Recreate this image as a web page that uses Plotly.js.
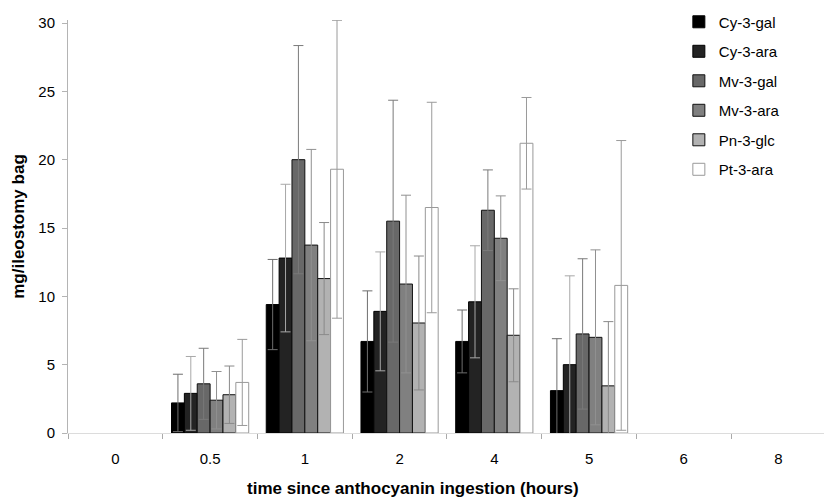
<!DOCTYPE html>
<html>
<head>
<meta charset="utf-8">
<script src="https://cdn.plot.ly/plotly-3.0.1.min.js"></script>
<style>html,body{margin:0;padding:0;background:#fff;}#chart{width:824px;height:499px;}</style>
</head>
<body>
<div id="chart"></div>
<script>
const categories = ["0", "0.5", "1", "2", "4", "5", "6", "8"];
const seriesNames = ["Cy-3-gal", "Cy-3-ara", "Mv-3-gal", "Mv-3-ara", "Pn-3-glc", "Pt-3-ara"];

const cy3gal = [0, 2.2, 9.4, 6.7, 6.7, 3.1, 0, 0];
const cy3galErr = [0, 2.1, 3.3, 3.7, 2.3, 3.8, 0, 0];
const cy3ara = [0, 2.9, 12.8, 8.9, 9.6, 5.0, 0, 0];
const cy3araErr = [0, 2.7, 5.4, 4.35, 4.1, 6.5, 0, 0];
const mv3gal = [0, 3.6, 20.0, 15.5, 16.3, 7.25, 0, 0];
const mv3galErr = [0, 2.6, 8.35, 8.85, 2.95, 5.5, 0, 0];
const mv3ara = [0, 2.4, 13.75, 10.9, 14.25, 7.0, 0, 0];
const mv3araErr = [0, 2.1, 7.0, 6.5, 3.1, 6.4, 0, 0];
const pn3glc = [0, 2.8, 11.3, 8.05, 7.15, 3.45, 0, 0];
const pn3glcErr = [0, 2.1, 4.1, 4.9, 3.4, 4.7, 0, 0];
const pt3ara = [0, 3.7, 19.3, 16.5, 21.2, 10.8, 0, 0];
const pt3araErr = [0, 3.15, 10.9, 7.7, 3.35, 10.6, 0, 0];

const xTitle = "time since anthocyanin ingestion (hours)";
const yTitle = "mg/ileostomy bag";

const values = [cy3gal, cy3ara, mv3gal, mv3ara, pn3glc, pt3ara];
const errors = [cy3galErr, cy3araErr, mv3galErr, mv3araErr, pn3glcErr, pt3araErr];
const fills = ["#000000", "#232323", "#686868", "#808080", "#b2b2b2", "#ffffff"];
const outlines = ["#000000", "#000000", "#111111", "#111111", "#111111", "#999999"];
const errColors = ["#6e6e6e", "#a8a8a8", "#7a7a7a", "#909090", "#8a8a8a", "#9a9a9a"];

const traces = seriesNames.map((name, i) => ({
  type: "bar",
  name: name,
  x: categories,
  y: values[i].map(v => v === 0 ? null : v),
  legendgroup: name,
  cliponaxis: false,
  marker: {color: fills[i], line: {color: outlines[i], width: 1}},
  error_y: {type: "data", array: errors[i].map(v => v === 0 ? null : v), symmetric: true, visible: true,
            color: errColors[i], thickness: 1, width: 5}
}));

const layout = {
  width: 824, height: 499,
  margin: {l: 68, r: 0, t: 20, b: 66},
  paper_bgcolor: "#ffffff", plot_bgcolor: "#ffffff",
  font: {family: "Liberation Sans, Arial, sans-serif", size: 15, color: "#000"},
  barmode: "group", bargap: 0.185, bargroupgap: 0,
  showlegend: true,
  legend: {x: 0.808, xref: "paper", y: 1.035, yanchor: "top", xanchor: "left",
           font: {size: 15}, tracegroupgap: 7, bgcolor: "rgba(0,0,0,0)"},
  xaxis: {
    type: "category", range: [-0.5, 7.48],
    showline: true, linecolor: "#dcdcdc", linewidth: 1,
    ticks: "outside", tickson: "boundaries", ticklen: 5, tickcolor: "#aaaaaa",
    ticklabelstandoff: 12,
    showgrid: false, zeroline: false
  },
  yaxis: {
    range: [0, 30.22], tickvals: [0, 5, 10, 15, 20, 25, 30],
    showline: true, linecolor: "#b4b4b4", linewidth: 1,
    ticks: "outside", ticklen: 5, tickcolor: "#b4b4b4",
    ticklabelstandoff: 4,
    showgrid: false, zeroline: false,
    title: {text: "<b>" + yTitle + "</b>", font: {size: 17}, standoff: 9}
  },
  annotations: [{
    text: "<b>" + xTitle + "</b>", xref: "paper", yref: "paper",
    x: (413 - 68) / 756, y: -0.134, xanchor: "center", yanchor: "middle",
    showarrow: false, font: {size: 17}
  }]
};

Plotly.newPlot("chart", traces, layout, {displayModeBar: false, staticPlot: true});
</script>
</body>
</html>
